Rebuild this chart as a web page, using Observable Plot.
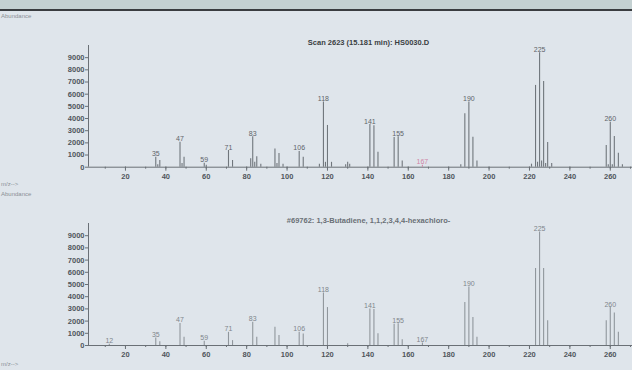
<!DOCTYPE html>
<html><head><meta charset="utf-8">
<script src="https://cdn.jsdelivr.net/npm/d3@7"></script>
<script src="https://cdn.jsdelivr.net/npm/@observablehq/plot@0.6"></script>
<style>
html,body{margin:0;padding:0;}
body{width:632px;height:370px;background:#dfe5eb;position:relative;overflow:hidden;font-family:"Liberation Sans",Arial,sans-serif;}
#hdr{position:absolute;left:0;top:0;width:632px;height:9px;background:#c4d1d2;border-bottom:2px solid #3a3d40;}
.lbl{position:absolute;left:1px;font-size:6px;line-height:6px;color:#8a9096;white-space:nowrap;}
#p1{position:absolute;left:0;top:10px;}
#p2{position:absolute;left:0;top:185px;}
</style></head><body>
<div id="hdr"></div>
<div class="lbl" style="top:13px">Abundance</div>
<div class="lbl" style="top:181px">m/z--&gt;</div>
<div class="lbl" style="top:191px">Abundance</div>
<div class="lbl" style="top:361px">m/z--&gt;</div>
<div id="p1"></div>
<div id="p2"></div>
<script>
// Sample spectrum (top)
const sampleTitle = "Scan 2623 (15.181 min): HS0030.D";
const sampleMz = [35,36,37,47,48,49,59,60,71,73,82,83,84,85,87,94,95,96,98,106,108,116,118,119,120,122,129,130,131,141,143,145,153,155,157,167,186,188,190,192,194,221,223,224,225,226,227,228,229,231,258,259,260,261,262,264,266];
const sampleAb = [820,200,550,2060,300,820,330,150,1370,550,700,2500,400,850,250,1500,300,1120,250,1300,820,250,5350,400,3430,400,200,400,250,3500,3400,1230,2450,2500,500,150,200,4400,5350,2470,500,250,6720,400,9400,500,7050,300,2030,300,1790,200,3700,200,2530,1150,200];
const sampleLabels = [35,47,59,71,83,106,118,141,155,167,190,225,260];

// Library spectrum (bottom)
const libTitle = "#69762: 1,3-Butadiene, 1,1,2,3,4,4-hexachloro-";
const libMz = [12,35,37,47,49,59,71,73,83,85,94,96,106,108,118,120,130,141,143,145,153,155,157,167,188,190,192,194,223,225,227,229,258,260,262,264];
const libAb = [100,620,300,1810,670,350,1080,400,1900,670,1490,810,1080,950,4310,3110,150,3000,2950,970,1750,1790,480,200,3520,4800,2300,680,6310,9300,6310,2030,2030,3110,2660,1080];
const libLabels = [12,35,47,59,71,83,106,118,141,155,167,190,225,260];

const xTicks = d3.range(20, 261, 20);
const xMinor = d3.range(10, 271, 10);
const yTicks = d3.range(0, 9001, 1000);

function panel(mz, ab, labels, title, h, mt, mb, barColor, textColor, titleColor, pink) {
  const data = mz.map((m, i) => ({mz: m, ab: ab[i]}));
  const lab = data.filter(d => labels.includes(d.mz));
  return Plot.plot({
    width: 632, height: h,
    marginLeft: 88, marginRight: 0, marginTop: mt, marginBottom: mb,
    style: {background: "transparent", fontFamily: "Liberation Sans, Arial, sans-serif"},
    x: {domain: [1.7, 271], axis: null, label: null},
    y: {domain: [0, 10000], axis: null, label: null},
    marks: [
      Plot.axisX({ticks: xMinor, tickSize: 2, text: null, label: null, stroke: "#6a7076"}),
      Plot.axisX({ticks: xTicks, tickSize: 4, tickPadding: 2, label: null, fontSize: 7.5, fontWeight: "bold", stroke: "#6a7076", fill: "#50555b"}),
      Plot.axisY({ticks: yTicks, tickSize: 3, tickPadding: 1, label: null, tickFormat: "d", fontSize: 7.5, fontWeight: "bold", stroke: "#6a7076", fill: "#50555b"}),
      Plot.ruleY([0], {stroke: "#6a7076"}),
      Plot.ruleX([1.7], {y1: 0, y2: 10000, stroke: "#6a7076"}),
      Plot.ruleX(data, {x: "mz", y1: 0, y2: "ab", stroke: d => (pink && d.mz === 167) ? "#d08aa8" : barColor, strokeWidth: 1.1}),
      Plot.text(lab, {x: "mz", y: "ab", text: d => String(d.mz), dy: -1, lineAnchor: "bottom", fontSize: 7, fill: d => (pink && d.mz === 167) ? "#cf86a6" : textColor}),
      Plot.text([title], {frameAnchor: "top", dx: 8, dy: -1, lineAnchor: "bottom", fontSize: 7.5, fill: titleColor, fontWeight: "bold"})
    ]
  });
}

document.getElementById("p1").append(panel(sampleMz, sampleAb, sampleLabels, sampleTitle, 175, 35, 18.3, "#70767c", "#5e646a", "#3a3e42", true));
document.getElementById("p2").append(panel(libMz, libAb, libLabels, libTitle, 185, 38, 25, "#90969c", "#80868c", "#6a7076", false));
</script>
</body></html>
